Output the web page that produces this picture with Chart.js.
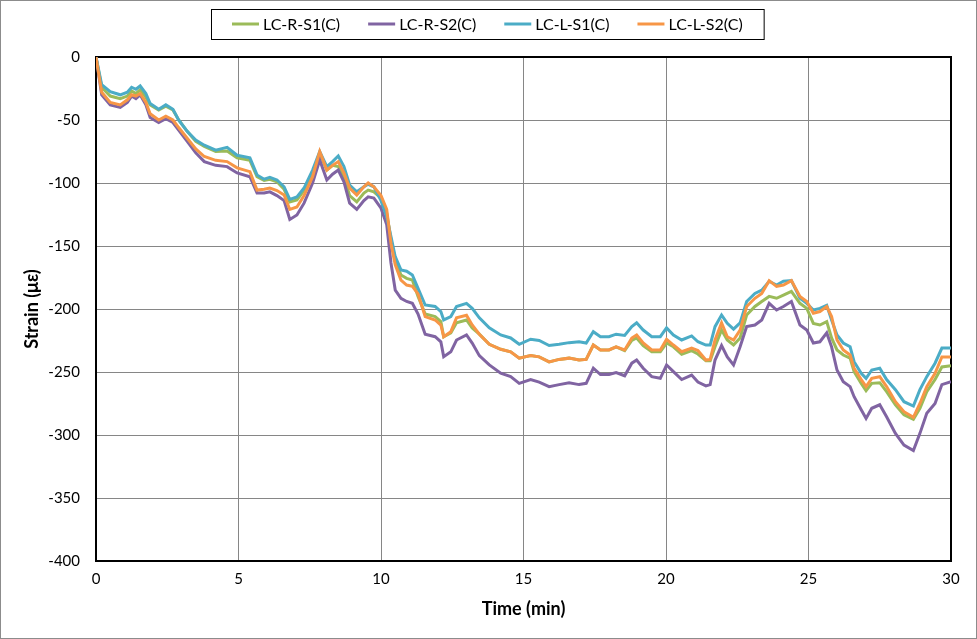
<!DOCTYPE html>
<html>
<head>
<meta charset="utf-8">
<title>Strain vs time</title>
<script src="https://cdn.jsdelivr.net/npm/chart.js@4.4.1/dist/chart.umd.min.js"></script>
<style>
    html, body { margin: 0; padding: 0; background: #fff; }
    #wrap { width: 977px; height: 639px; }
</style>
</head>
<body>
<div id="wrap"><canvas id="grafico" width="977" height="639"></canvas></div>
<script>
// tempo (min)
const times = [
    0, 0.2, 0.5, 0.85, 1.1, 1.25, 1.4, 1.55, 1.75, 1.9,
    2.2, 2.45, 2.7, 2.9, 3.2, 3.5, 3.8, 4.2, 4.6, 4.95,
    5.4, 5.65, 5.9, 6.1, 6.35, 6.6, 6.8, 7.05, 7.3, 7.6,
    7.85, 8.1, 8.3, 8.5, 8.7, 8.9, 9.15, 9.4, 9.55, 9.75,
    10.0, 10.2, 10.35, 10.5, 10.7, 10.9, 11.1, 11.3, 11.55, 11.9,
    12.1, 12.2, 12.45, 12.65, 13.0, 13.2, 13.45, 13.8, 14.2, 14.55,
    14.85, 15.25, 15.55, 15.9, 16.25, 16.6, 16.95, 17.2, 17.45, 17.7,
    18.0, 18.25, 18.55, 18.8, 18.97, 19.2, 19.5, 19.8, 20.02, 20.26,
    20.55, 20.9, 21.12, 21.4, 21.55, 21.72, 21.95, 22.15, 22.37, 22.6,
    22.83, 23.12, 23.36, 23.62, 23.88, 24.12, 24.4, 24.7, 24.94, 25.17,
    25.4, 25.64, 25.81, 26.0, 26.22, 26.46, 26.6, 26.85, 27.02, 27.22,
    27.5, 27.74, 28.05, 28.35, 28.68, 28.91, 29.15, 29.44, 29.68, 30
];

const lcRS1 = [
    0, -24, -31, -33, -31, -27, -29, -26, -32, -38,
    -42, -39, -42, -50, -59, -67, -71, -75, -74.6, -80,
    -82, -95, -98, -97, -99, -105, -115, -113.5, -106, -91.8,
    -76.5, -89.7, -86, -87, -95, -110, -115, -108, -105.6, -107,
    -112, -124, -145, -161, -173, -175.7, -177, -190, -204, -206,
    -210, -222, -219, -211, -208.7, -215, -220, -228, -232, -234,
    -239, -237, -238, -242, -240, -239, -240.5, -240, -228.6, -232.5,
    -232.5, -230, -233, -225, -223, -229, -234, -234, -227, -230,
    -236, -233, -235.7, -241, -241, -230, -216.7, -224.6, -228.6, -223,
    -204.8, -198, -194, -190, -191.5, -189, -186, -195.5, -199.5, -211.4,
    -212.7, -210, -223, -232.5, -236.5, -239, -249.7, -259, -264.8, -259,
    -258.5, -265.6, -276, -284, -287.5, -278.8, -265.6, -256, -246, -245
];

const lcRS2 = [
    0, -30, -38, -40, -36, -31, -33, -30, -38, -48,
    -52, -49, -52, -58, -67, -76, -83, -86, -87, -92,
    -95, -108, -108, -107, -110, -114, -129, -125.4, -116, -100,
    -81.7, -97.6, -93, -89.7, -99, -116, -121, -114, -111, -112,
    -120, -133, -163.5, -185, -191.5, -194, -195.5, -204, -220, -222,
    -226, -237.8, -234, -224.6, -220.6, -227, -237, -244.4, -251, -253.7,
    -259, -256, -258, -261.6, -260, -258.5, -260, -259, -247, -252,
    -252, -250.5, -253, -243, -240.5, -247, -253.7, -255, -244.4, -249.7,
    -256, -252.4, -258, -261, -260, -240.5, -229, -238, -244.4, -230,
    -214, -212.7, -208.7, -195.5, -200.8, -198, -194, -212.7, -216.7, -227,
    -226, -219, -230, -248.4, -257.7, -261.6, -269.6, -280, -286.8, -278.8,
    -276, -285.5, -298.7, -308, -312.4, -298.7, -282.8, -275, -260, -257.7
];

const lcLS1 = [
    0, -22, -27.5, -30, -28, -24, -25.6, -23, -29, -37,
    -41.5, -38, -41.5, -50, -59, -66, -70, -74, -71.7, -78,
    -80, -93.6, -97, -95.5, -97.6, -103, -113, -111, -104, -89.7,
    -75, -87, -83, -78.6, -87, -101.6, -107, -103, -101, -103,
    -114, -126.7, -142.6, -158.5, -169, -170, -173, -183.6, -196.8, -198,
    -202, -208.7, -206, -198, -195.5, -199.5, -207, -215, -220.6, -223,
    -228, -224, -225, -229, -228, -226.7, -226, -227, -218, -222,
    -222, -220, -221, -214, -211, -216.7, -222, -222, -215, -220.6,
    -224.6, -221.4, -226, -228.6, -228.6, -214, -204.8, -211.4, -216, -211,
    -194, -187.6, -185, -178, -181, -178, -177.5, -191.5, -195.5, -200.8,
    -199.5, -197, -208.7, -220.6, -227, -230, -241.8, -251, -255, -248.4,
    -247, -256, -264, -273.6, -277, -264, -253.7, -243, -231, -231
];

const lcLS2 = [
    0, -28, -36, -38, -34, -30, -31, -29, -36, -45,
    -50, -47, -50, -56, -64.5, -73, -79, -82, -83, -88,
    -91, -105.6, -105, -104, -106, -109.5, -121, -119, -110, -95,
    -75, -89.7, -86, -83, -92, -104, -109.5, -103, -100, -103,
    -110, -121, -148, -165, -177, -181, -182, -188, -206, -208.7,
    -212.7, -222, -218, -207, -205, -212.7, -220, -228, -232, -234,
    -239, -237, -238, -242, -240, -239, -240.5, -240, -228.6, -232.5,
    -232.5, -230, -232.5, -223, -220.6, -227, -232.5, -232.5, -224, -228.6,
    -233.9, -231, -233, -240.5, -240, -224.6, -211, -222, -224.6, -216.7,
    -198, -191.5, -187.6, -177.5, -182, -181, -177.5, -190, -194, -203.4,
    -202, -198, -206, -224.6, -232.5, -236.5, -247, -256, -261.6, -255,
    -253.7, -261.6, -273.6, -281.5, -286, -275, -261.6, -251, -238, -238
];

const seriesNames = ['LC-R-S1(C)', 'LC-R-S2(C)', 'LC-L-S1(C)', 'LC-L-S2(C)'];
const seriesColors = ['#9BBB59', '#8064A2', '#4BACC6', '#F79646'];
const seriesValues = [lcRS1, lcRS2, lcLS1, lcLS2];

const xTicks = [0, 5, 10, 15, 20, 25, 30];
const yTicks = [0, -50, -100, -150, -200, -250, -300, -350, -400];

const fonte = 'Lato, "Liberation Sans", sans-serif';

// moldura do gráfico, borda da área de plotagem e legenda com caixa
const molduraPlugin = {
    id: 'moldura',
    beforeDatasetsDraw(chart) {
        const { ctx, chartArea: a } = chart;
        ctx.save();
        ctx.strokeStyle = '#000';
        ctx.lineWidth = 2;
        ctx.strokeRect(a.left, a.top, a.right - a.left, a.bottom - a.top);
        ctx.restore();
    },
    afterDraw(chart) {
        const ctx = chart.ctx;
        ctx.save();
        // borda externa
        ctx.strokeStyle = '#8c8c8c';
        ctx.lineWidth = 1;
        ctx.strokeRect(0.5, 0.5, chart.width - 1, chart.height - 1);

        // legenda
        ctx.font = '16px ' + fonte;
        ctx.textBaseline = 'middle';
        const lineLen = 27, gapTxt = 4, gapItem = 28, padBox = 21;
        const widths = chart.data.datasets.map(ds => ctx.measureText(ds.label).width);
        let total = padBox * 2;
        widths.forEach((w, i) => { total += lineLen + gapTxt + w + (i > 0 ? gapItem : 0); });
        const boxLeft = Math.round(487 - total / 2);
        const boxTop = 9, boxH = 30, midY = 24;
        ctx.strokeStyle = '#000';
        ctx.strokeRect(boxLeft + 0.5, boxTop + 0.5, total, boxH);
        let x = boxLeft + padBox;
        chart.data.datasets.forEach((ds, i) => {
            ctx.strokeStyle = ds.borderColor;
            ctx.lineWidth = 3;
            ctx.beginPath();
            ctx.moveTo(x, midY);
            ctx.lineTo(x + lineLen, midY);
            ctx.stroke();
            ctx.fillStyle = '#000';
            ctx.fillText(ds.label, x + lineLen + gapTxt, midY + 1);
            x += lineLen + gapTxt + widths[i] + gapItem;
        });
        ctx.restore();
    }
};

const datasets = seriesNames.map((nome, i) => ({
    label: nome,
    data: times.map((t, k) => ({ x: t, y: seriesValues[i][k] })),
    borderColor: seriesColors[i],
    backgroundColor: seriesColors[i],
    borderWidth: 3,
    pointRadius: 0,
    tension: 0,
    order: 4 - i // laranja por cima, como no original
}));

new Chart(document.getElementById('grafico'), {
    type: 'line',
    data: { datasets: datasets },
    options: {
        responsive: false,
        animation: false,
        events: [],
        layout: { padding: { top: 57, right: 26, left: 0, bottom: 0 } },
        plugins: {
            legend: { display: false },
            tooltip: { enabled: false }
        },
        scales: {
            x: {
                type: 'linear',
                min: 0,
                max: 30,
                afterBuildTicks: scale => { scale.ticks = xTicks.map(v => ({ value: v })); },
                afterFit: scale => { scale.height = 78; },
                grid: { color: '#868686', lineWidth: 1, drawTicks: false },
                border: { display: false },
                ticks: { color: '#000', font: { family: fonte, size: 15 }, padding: 9, maxRotation: 0 },
                title: {
                    display: true,
                    text: 'Time (min)',
                    color: '#000',
                    font: { family: fonte, size: 18, weight: 'bold' },
                    padding: { top: 0, bottom: 19 }
                }
            },
            y: {
                type: 'linear',
                min: -400,
                max: 0,
                afterBuildTicks: scale => { scale.ticks = yTicks.map(v => ({ value: v })); },
                afterFit: scale => { scale.width = 96; },
                grid: { color: '#868686', lineWidth: 1, drawTicks: false },
                border: { display: false },
                ticks: { color: '#000', font: { family: fonte, size: 15 }, padding: 16 },
                title: {
                    display: true,
                    text: 'Strain (με)',
                    color: '#000',
                    font: { family: fonte, size: 18, weight: 'bold' },
                    padding: { top: 21, bottom: 0 }
                }
            }
        }
    },
    plugins: [molduraPlugin]
});
</script>
</body>
</html>
